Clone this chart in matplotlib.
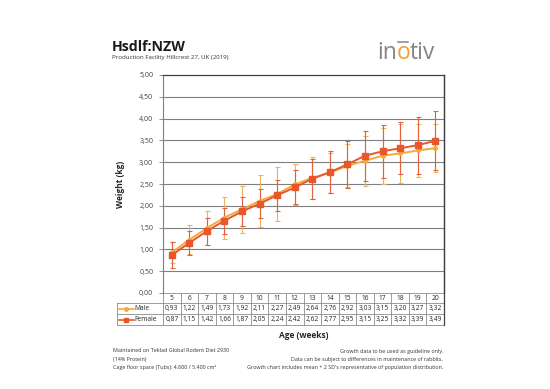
import matplotlib
matplotlib.use("Agg")
import matplotlib.pyplot as plt
import numpy as np

weeks = [5, 6, 7, 8, 9, 10, 11, 12, 13, 14, 15, 16, 17, 18, 19, 20]
male = [0.93, 1.22, 1.49, 1.73, 1.92, 2.11, 2.27, 2.49, 2.64, 2.76, 2.92, 3.03, 3.15, 3.20, 3.27, 3.32]
female = [0.87, 1.15, 1.42, 1.66, 1.87, 2.05, 2.24, 2.42, 2.62, 2.77, 2.95, 3.15, 3.25, 3.32, 3.39, 3.49]
male_err = [0.25, 0.33, 0.40, 0.48, 0.54, 0.60, 0.63, 0.48, 0.48, 0.46, 0.50, 0.57, 0.64, 0.68, 0.60, 0.55]
female_err = [0.29, 0.28, 0.31, 0.30, 0.33, 0.33, 0.36, 0.39, 0.46, 0.48, 0.54, 0.57, 0.61, 0.60, 0.65, 0.68]
yticks = [0, 0.5, 1.0, 1.5, 2.0, 2.5, 3.0, 3.5, 4.0, 4.5, 5.0]

FONT = ["Open Sans", "DejaVu Sans"]
plt.rcParams['font.family'] = FONT

MALE_C = "#F4A93A"
MALE_EC = "#EDB35A"
FEM_C = "#E8572A"
FEM_EC = "#E0623C"
GRID_C = "#7F7F7F"
TXT = "#262626"

W, H = 550, 389
fig = plt.figure(figsize=(W / 100, H / 100), dpi=100)
fig.patch.set_facecolor("white")

def px(x, y):
    return x / W, 1 - y / H

L, R, T, B = 163, 444, 75, 293
ax = fig.add_axes([L / W, 1 - B / H, (R - L) / W, (B - T) / H])
x = np.arange(len(weeks))

ax.errorbar(x, male, yerr=male_err, fmt="none", ecolor=MALE_EC, elinewidth=0.8, capsize=1.8, capthick=0.8, zorder=3)
ax.errorbar(x, female, yerr=female_err, fmt="none", ecolor=FEM_EC, elinewidth=0.8, capsize=1.8, capthick=0.8, zorder=3)
ax.plot(x, male, color=MALE_C, lw=1.4, marker="o", ms=2.5, zorder=4)
ax.plot(x, female, color=FEM_C, lw=1.4, marker="s", ms=4, zorder=5)

ax.set_xlim(-0.5, len(weeks) - 0.5)
ax.set_ylim(0, 5)
ax.set_yticks(yticks)
ax.set_yticklabels([f"{v:.2f}".replace(".", ",") for v in yticks], fontsize=5, color="#404040")
ax.set_xticks([])
ax.tick_params(axis="y", length=3, width=0.6, color=GRID_C, pad=4)
for v in yticks[1:-1]:
    ax.axhline(v, color=GRID_C, lw=0.8, zorder=1)
ax.spines["left"].set_color(GRID_C)
ax.spines["left"].set_linewidth(0.8)
ax.spines["top"].set_color("#404040")
ax.spines["top"].set_linewidth(0.9)
ax.spines["right"].set_color("#404040")
ax.spines["right"].set_linewidth(0.9)
ax.spines["bottom"].set_visible(False)

ax.set_ylabel("Weight (kg)", fontsize=6, fontweight="bold", labelpad=10, color=TXT)

# Table below the axes
tr = ax.get_xaxis_transform()
ph = B - T
def ya(ypx):
    return (B - ypx) / ph

rows = [293, 303, 314, 325]
xl = -0.5 - (L - 117) / ((R - L) / len(weeks))
n = len(weeks)
lc = "#8C8C8C"
ax.plot([-0.5, n - 0.5], [ya(rows[0])] * 2, transform=tr, color=lc, lw=0.6, clip_on=False)
for r in rows[1:]:
    ax.plot([xl, n - 0.5], [ya(r)] * 2, transform=tr, color=lc, lw=0.6, clip_on=False)
for i in range(n + 1):
    ax.plot([i - 0.5] * 2, [ya(rows[0]), ya(rows[3])], transform=tr, color=lc, lw=0.6, clip_on=False)
ax.plot([xl] * 2, [ya(rows[1]), ya(rows[3])], transform=tr, color=lc, lw=0.6, clip_on=False)
ax.plot([n - 0.5] * 2, [ya(rows[3]), 1], transform=tr, color="#404040", lw=0.9, clip_on=False)

tfs = 4.8
for i, w in enumerate(weeks):
    ax.text(i, ya((rows[0] + rows[1]) / 2), str(w), transform=tr, ha="center", va="center", fontsize=tfs, color=TXT)
    ax.text(i, ya((rows[1] + rows[2]) / 2), f"{male[i]:.2f}".replace(".", ","), transform=tr, ha="center", va="center", fontsize=tfs, color=TXT)
    ax.text(i, ya((rows[2] + rows[3]) / 2), f"{female[i]:.2f}".replace(".", ","), transform=tr, ha="center", va="center", fontsize=tfs, color=TXT)

lx0 = xl + 0.1
lx1 = xl + 0.95
for (r0, r1), col, mk, ms, lab in [((rows[1], rows[2]), MALE_C, "o", 2.5, "Male"), ((rows[2], rows[3]), FEM_C, "s", 3.5, "Female")]:
    yy = ya((r0 + r1) / 2)
    ax.plot([lx0, lx1], [yy, yy], transform=tr, color=col, lw=1.2, clip_on=False)
    ax.plot([(lx0 + lx1) / 2], [yy], transform=tr, color=col, marker=mk, ms=ms, clip_on=False)
    ax.text(lx1 + 0.05, yy, lab, transform=tr, ha="left", va="center", fontsize=tfs, color=TXT)

fig.text(*px(304, 335), "Age (weeks)", ha="center", va="center", fontsize=6, fontweight="bold", color=TXT)

fig.text(*px(112, 47), "Hsdlf:NZW", ha="left", va="center", fontsize=10.2, fontweight="bold", color="#1a1a1a")
fig.text(*px(112, 57), "Production Facility Hillcrest 27, UK (2019)", ha="left", va="center", fontsize=4.4, color="#333333")

# Logo
grey = "#858585"
fig.text(*px(377, 53), "in", ha="left", va="center", fontsize=16.5, color=grey)
fig.text(*px(397, 53), "o", ha="left", va="center", fontsize=16.5, color="#F0A030")
fig.text(*px(410, 53), "tiv", ha="left", va="center", fontsize=16.5, color=grey)
fig.add_artist(plt.Line2D([398.5 / W, 408 / W], [1 - 41.5 / H] * 2, color=grey, lw=1.1))

fs = 3.9
fig.text(*px(113, 351), "Maintained on Teklad Global Rodent Diet 2930", ha="left", va="center", fontsize=fs, color="#333333")
fig.text(*px(113, 359), "(14% Protein)", ha="left", va="center", fontsize=fs, color="#333333")
fig.text(*px(113, 367), "Cage floor space (Tubs): 4.600 / 5.400 cm²", ha="left", va="center", fontsize=fs, color="#333333")
fig.text(*px(443, 351), "Growth data to be used as guideline only.", ha="right", va="center", fontsize=fs, color="#333333")
fig.text(*px(443, 359), "Data can be subject to differences in maintenance of rabbits.", ha="right", va="center", fontsize=fs, color="#333333")
fig.text(*px(443, 367), "Growth chart includes mean + 2 SD's representative of population distribution.", ha="right", va="center", fontsize=fs, color="#333333")

fig.savefig("out.png", dpi=100)
